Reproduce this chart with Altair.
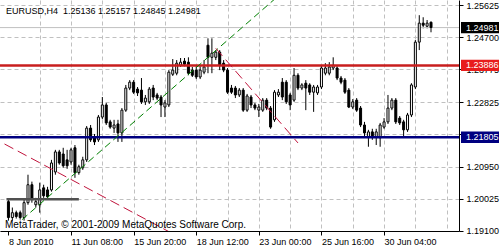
import altair as alt
import pandas as pd

# ---------------- data ----------------
OPEN = [1.1994, 1.1948, 1.1962, 1.1962, 1.1948, 1.1991, 1.2043, 1.1985, 1.1985, 1.2034,
        1.2028, 1.2028, 1.2080, 1.2138, 1.2132, 1.2115, 1.2109, 1.2150, 1.2078, 1.2092,
        1.2115, 1.2207, 1.2181, 1.2173, 1.2239, 1.2274, 1.2225, 1.2207, 1.2219, 1.2193,
        1.2259, 1.2323, 1.2340, 1.2320, 1.2317, 1.2283, 1.2283, 1.2323, 1.2303, 1.2297,
        1.2268, 1.2274, 1.2363, 1.2366, 1.2389, 1.2401, 1.2398, 1.2375, 1.2375, 1.2355,
        1.2369, 1.2447, 1.2412, 1.2412, 1.2427, 1.2395, 1.2375, 1.2323, 1.2323, 1.2303,
        1.2317, 1.2259, 1.2297, 1.2274, 1.2259, 1.2259, 1.2288, 1.2265, 1.2231, 1.2303,
        1.2340, 1.2340, 1.2303, 1.2288, 1.2360, 1.2323, 1.2337, 1.2332, 1.2311, 1.2309,
        1.2326, 1.2366, 1.2366, 1.2381, 1.2381, 1.2352, 1.2346, 1.2317, 1.2268, 1.2288,
        1.2265, 1.2216, 1.2181, 1.2196, 1.2181, 1.2179, 1.2210, 1.2225, 1.2265, 1.2288,
        1.2236, 1.2225, 1.2202, 1.2245, 1.2326, 1.2456, 1.2511, 1.2502, 1.25136]
HIGH = [1.2000, 1.1977, 1.1968, 1.1968, 1.2000, 1.2072, 1.2052, 1.2005, 1.2049, 1.2043,
        1.2037, 1.2115, 1.2144, 1.2144, 1.2150, 1.2144, 1.2150, 1.2158, 1.2101, 1.2124,
        1.2213, 1.2216, 1.2190, 1.2245, 1.2297, 1.2280, 1.2231, 1.2231, 1.2231, 1.2265,
        1.2332, 1.2346, 1.2346, 1.2326, 1.2352, 1.2303, 1.2326, 1.2332, 1.2309, 1.2303,
        1.2288, 1.2375, 1.2407, 1.2404, 1.2410, 1.2410, 1.2412, 1.2384, 1.2386, 1.2386,
        1.2404, 1.2467, 1.2467, 1.2433, 1.2433, 1.2404, 1.2381, 1.2332, 1.2329, 1.2323,
        1.2323, 1.2306, 1.2303, 1.2280, 1.2277, 1.2294, 1.2294, 1.2271, 1.2317, 1.2320,
        1.2352, 1.2346, 1.2309, 1.2381, 1.2366, 1.2337, 1.2346, 1.2337, 1.2332, 1.2332,
        1.2389, 1.2395, 1.2398, 1.2412, 1.2386, 1.2358, 1.2352, 1.2323, 1.2291, 1.2294,
        1.2271, 1.2225, 1.2202, 1.2205, 1.2205, 1.2222, 1.2236, 1.2303, 1.2294, 1.2294,
        1.2242, 1.2231, 1.2251, 1.2337, 1.2462, 1.2534, 1.2528, 1.2520, 1.25157]
LOW = [1.1939, 1.1939, 1.1945, 1.1942, 1.1939, 1.1985, 1.1991, 1.1977, 1.1962, 1.2005,
       1.2002, 1.2023, 1.2072, 1.2101, 1.2092, 1.2089, 1.2101, 1.2063, 1.2072, 1.2086,
       1.2109, 1.2167, 1.2158, 1.2167, 1.2233, 1.2216, 1.2205, 1.2193, 1.2167, 1.2167,
       1.2254, 1.2317, 1.2306, 1.2300, 1.2277, 1.2274, 1.2277, 1.2288, 1.2288, 1.2239,
       1.2239, 1.2268, 1.2358, 1.2360, 1.2384, 1.2386, 1.2360, 1.2355, 1.2349, 1.2349,
       1.2363, 1.2366, 1.2366, 1.2404, 1.2375, 1.2369, 1.2306, 1.2306, 1.2294, 1.2297,
       1.2254, 1.2254, 1.2265, 1.2259, 1.2239, 1.2254, 1.2259, 1.2205, 1.2225, 1.2297,
       1.2288, 1.2277, 1.2259, 1.2283, 1.2317, 1.2317, 1.2259, 1.2303, 1.2254, 1.2303,
       1.2320, 1.2360, 1.2360, 1.2375, 1.2346, 1.2334, 1.2306, 1.2265, 1.2262, 1.2254,
       1.2210, 1.2184, 1.2153, 1.2173, 1.2158, 1.2153, 1.2205, 1.2219, 1.2259, 1.2219,
       1.2216, 1.2184, 1.2196, 1.2239, 1.2320, 1.2433, 1.2496, 1.2496, 1.24845]
CLOSE = [1.1948, 1.1962, 1.1951, 1.1948, 1.1991, 1.2043, 1.2000, 1.1994, 1.2028, 1.2011,
         1.2008, 1.2106, 1.2138, 1.2106, 1.2098, 1.2098, 1.2144, 1.2078, 1.2095, 1.2115,
         1.2207, 1.2173, 1.2167, 1.2239, 1.2274, 1.2222, 1.2210, 1.2216, 1.2193, 1.2259,
         1.2323, 1.2340, 1.2311, 1.2309, 1.2283, 1.2294, 1.2320, 1.2297, 1.2294, 1.2274,
         1.2280, 1.2369, 1.2375, 1.2395, 1.2398, 1.2392, 1.2366, 1.2360, 1.2355, 1.2375,
         1.2384, 1.2412, 1.2424, 1.2427, 1.2389, 1.2375, 1.2311, 1.2311, 1.2303, 1.2317,
         1.2259, 1.2300, 1.2274, 1.2265, 1.2268, 1.2288, 1.2265, 1.2210, 1.2311, 1.2311,
         1.2297, 1.2283, 1.2274, 1.2360, 1.2323, 1.2332, 1.2323, 1.2311, 1.2326, 1.2326,
         1.2381, 1.2381, 1.2384, 1.2389, 1.2352, 1.2340, 1.2311, 1.2268, 1.2283, 1.2259,
         1.2216, 1.2193, 1.2196, 1.2181, 1.2196, 1.2216, 1.2225, 1.2265, 1.2288, 1.2225,
         1.2222, 1.2202, 1.2245, 1.2332, 1.2456, 1.2511, 1.2505, 1.2511, 1.24981]

X_TICK_BARS = [0, 16, 32, 48, 64, 80, 96]
X_TICK_LABELS = ["8 Jun 2010", "11 Jun 08:00", "15 Jun 20:00", "18 Jun 12:00",
                 "23 Jun 00:00", "25 Jun 16:00", "30 Jun 04:00"]
Y_TICKS = [1.25625, 1.24700, 1.23775, 1.22825, 1.21900, 1.20950, 1.20025, 1.19100]

HEADER = "EURUSD,H4\u00a0 1.25136 1.25157 1.24845 1.24981"
COPYRIGHT = "MetaTrader, \u00a9 2001-2009 MetaQuotes Software Corp."

RESISTANCE = 1.23886
SUPPORT = 1.21805
LAST_PRICE = 1.24981
LEVEL_BARS = [-0.5, 18]
LEVEL_PRICES = [1.2001, 1.2001]
GREEN_BARS = [3.5, 70]
GREEN_PRICES = [1.1942, 1.2600]
RED1_BARS = [-1, 45]
RED1_PRICES = [1.2161, 1.1883]
RED2_BARS = [53, 74]
RED2_PRICES = [1.2438, 1.2164]

# ---------------- chart ----------------
FONT = "Liberation Sans"
df = pd.DataFrame({"bar": list(range(len(OPEN))), "open": OPEN, "high": HIGH,
                   "low": LOW, "close": CLOSE})

XS = alt.Scale(domain=[-0.875, 113.875], nice=False, zero=False)
YS = alt.Scale(domain=[1.1909, 1.2578], nice=False, zero=False)

grid_bars = sorted(set(list(range(8, 113, 8)) + X_TICK_BARS))
bars_js = "[" + ",".join(str(b) for b in X_TICK_BARS) + "]"
labels_js = "[" + ",".join("'" + s + "'" for s in X_TICK_LABELS) + "]"

X_AXIS = alt.Axis(
    values=grid_bars, orient="bottom", title=None,
    labelExpr=f"indexof({bars_js}, datum.value) >= 0 ? {labels_js}[indexof({bars_js}, datum.value)] : ''",
    labelAlign="left", labelBaseline="top", labelPadding=2,
    labelFont=FONT, labelFontSize=9, labelColor="black", labelOverlap=False, labelFlush=False,
    tickSize=4, tickColor="black",
    tickOpacity={"condition": {"test": f"indexof({bars_js}, datum.value) < 0", "value": 0}, "value": 1},
    domainColor="black", grid=True, gridColor="#c0c0c0", gridDash=[4, 3],
    gridOpacity={"condition": {"test": "datum.value === 0", "value": 0}, "value": 1},
)
Y_AXIS = alt.Axis(
    values=Y_TICKS, orient="right", title=None,
    labelExpr="abs(datum.value - 1.219) < 1e-7 ? '' : format(datum.value, '.5f')",
    labelFont=FONT, labelFontSize=9, labelColor="black", labelPadding=3, labelOverlap=False,
    labelFlush=False, tickSize=4, tickColor="black", domainColor="black",
    grid=True, gridColor="#c0c0c0", gridDash=[4, 3],
)

def X(field):
    return alt.X(field, scale=XS, axis=X_AXIS)

def Y(field):
    return alt.Y(field, scale=YS, axis=Y_AXIS)

price_line = alt.Chart(pd.DataFrame({"price": [LAST_PRICE]})).mark_rule(
    color="#c0c0c0", strokeWidth=1).encode(y=Y("price:Q"))

wicks = alt.Chart(df).mark_rule(color="black", strokeWidth=1).encode(
    x=X("bar:Q"), y=Y("low:Q"), y2="high:Q")
bodies = alt.Chart(df).mark_bar(width=2, stroke="black", strokeWidth=1).encode(
    x=X("bar:Q"), y=Y("open:Q"), y2="close:Q",
    fill=alt.condition("datum.close >= datum.open", alt.value("white"), alt.value("black")),
)

level = alt.Chart(pd.DataFrame({"bar": LEVEL_BARS, "price": LEVEL_PRICES})).mark_line(
    color="#505050", strokeWidth=2.5, clip=True).encode(x=X("bar:Q"), y=Y("price:Q"))

res = alt.Chart(pd.DataFrame({"price": [RESISTANCE]})).mark_rule(
    color="#c81e1e", strokeWidth=2.5).encode(y=Y("price:Q"))
sup = alt.Chart(pd.DataFrame({"price": [SUPPORT]})).mark_rule(
    color="#000080", strokeWidth=2.5).encode(y=Y("price:Q"))

def trend(bars, prices, color, dash):
    return alt.Chart(pd.DataFrame({"bar": bars, "price": prices})).mark_line(
        color=color, strokeWidth=1, strokeDash=dash, clip=True).encode(
        x=X("bar:Q"), y=Y("price:Q"))

green = trend(GREEN_BARS, GREEN_PRICES, "#008000", [7, 4])
red1 = trend(RED1_BARS, RED1_PRICES, "#c0143c", [10, 5])
red2 = trend(RED2_BARS, RED2_PRICES, "#c0143c", [10, 5])

def box(price, color):
    d = pd.DataFrame({"price": [price], "label": [f"{price:.5f}"]})
    base = alt.Chart(d).transform_calculate(top="datum.price + 0.00165", bot="datum.price - 0.00165")
    r = base.mark_rect(color=color).encode(
        x=alt.value(461), x2=alt.value(499), y=Y("top:Q"), y2="bot:Q")
    t = base.mark_text(align="left", baseline="middle", font=FONT, fontSize=9, color="white").encode(
        x=alt.value(466), y=Y("price:Q"), text="label:N")
    return [r, t]

header = alt.Chart(pd.DataFrame({"t": [HEADER]})).mark_text(
    align="left", baseline="alphabetic", font=FONT, fontSize=9, color="black").encode(
    x=alt.value(6), y=alt.value(14), text="t:N")
copy = alt.Chart(pd.DataFrame({"t": [COPYRIGHT]})).mark_text(
    align="left", baseline="alphabetic", font=FONT, fontSize=10, color="black").encode(
    x=alt.value(5), y=alt.value(227.5), text="t:N")

layers = [wicks, price_line, bodies, level, res, sup, green, red1, red2, header, copy]
layers += box(LAST_PRICE, "black") + box(RESISTANCE, "#e81c1c") + box(SUPPORT, "#000080")

chart = alt.layer(*layers).properties(
    width=459, height=231,
    autosize=alt.AutoSizeParams(type="none"),
    padding={"left": 0, "top": 0, "right": 43, "bottom": 19},
    background="white",
).configure_view(stroke=None)

chart.save("out.html", embed_options={"renderer": "svg", "actions": False})
